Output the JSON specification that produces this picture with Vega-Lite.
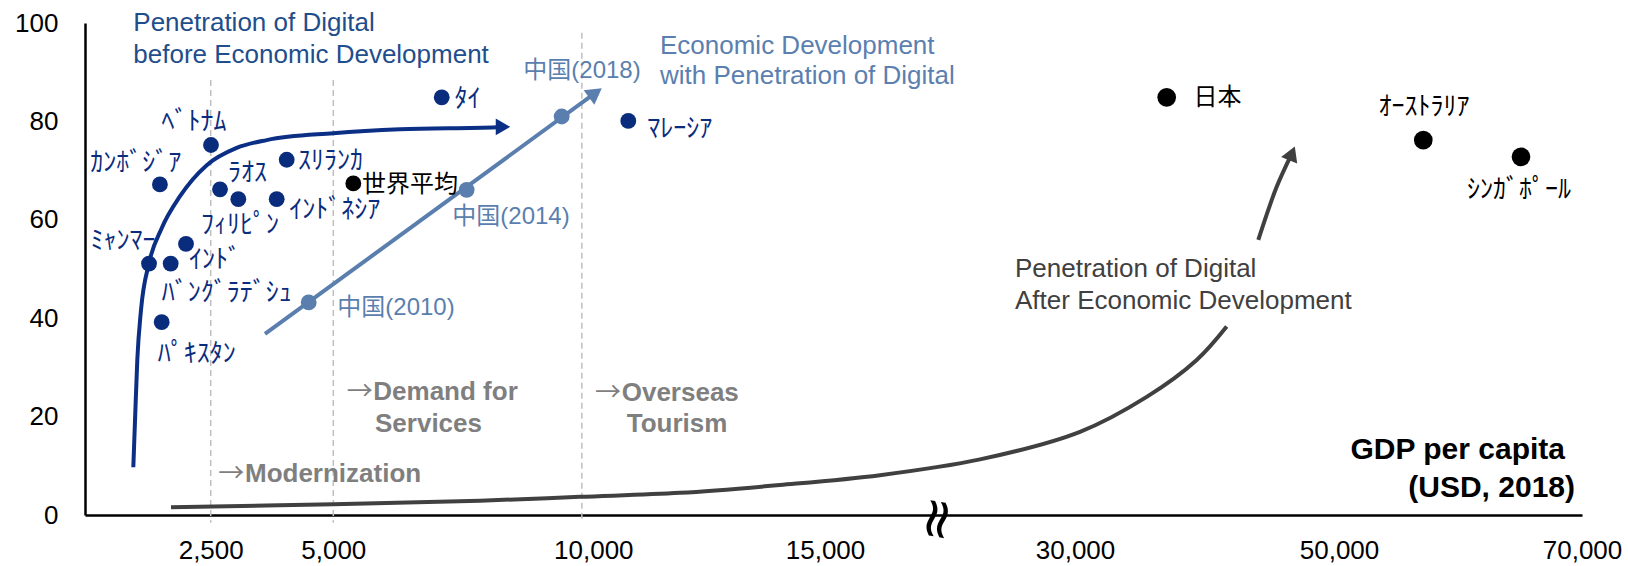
{
  "$schema": "https://vega.github.io/schema/vega-lite/v6.json",
  "width": 1497,
  "height": 492,
  "autosize": {"type": "none"},
  "padding": {"left": 85, "top": 23, "right": 46, "bottom": 51},
  "background": "white",
  "config": {"view": {"stroke": null}, "font": "Liberation Sans"},
  "datasets": {
    "points": [
      {"name": "ｶﾝﾎﾞｼﾞｱ", "gdp": 1490, "pct": 67.2, "group": "asia"},
      {"name": "ﾍﾞﾄﾅﾑ", "gdp": 2506, "pct": 75.2, "group": "asia"},
      {"name": "ﾗｵｽ", "gdp": 2690, "pct": 66.2, "group": "asia"},
      {"name": "ﾌｨﾘﾋﾟﾝ", "gdp": 3063, "pct": 64.2, "group": "asia"},
      {"name": "ｲﾝﾄﾞﾈｼｱ", "gdp": 3846, "pct": 64.2, "group": "asia"},
      {"name": "ｽﾘﾗﾝｶ", "gdp": 4050, "pct": 72.2, "group": "asia"},
      {"name": "ｲﾝﾄﾞ", "gdp": 2009, "pct": 55.1, "group": "asia"},
      {"name": "ﾊﾞﾝｸﾞﾗﾃﾞｼｭ", "gdp": 1704, "pct": 51.1, "group": "asia"},
      {"name": "ﾐｬﾝﾏｰ", "gdp": 1273, "pct": 51.1, "group": "asia"},
      {"name": "ﾊﾟｷｽﾀﾝ", "gdp": 1525, "pct": 39.2, "group": "asia"},
      {"name": "ﾀｲ", "gdp": 7085, "pct": 84.9, "group": "asia"},
      {"name": "ﾏﾚｰｼｱ", "gdp": 10755, "pct": 80.1, "group": "asia"},
      {"name": "世界平均", "gdp": 5385, "pct": 67.4, "group": "world"},
      {"name": "中国(2010)", "gdp": 4498, "pct": 43.2, "group": "china"},
      {"name": "中国(2014)", "gdp": 7565, "pct": 66.1, "group": "china"},
      {"name": "中国(2018)", "gdp": 9392, "pct": 81.0, "group": "china"},
      {"name": "日本", "gdp": 36947, "pct": 84.9, "group": "developed"},
      {"name": "ｵｰｽﾄﾗﾘｱ", "gdp": 56938, "pct": 76.2, "group": "developed"},
      {"name": "ｼﾝｶﾞﾎﾟｰﾙ", "gdp": 64979, "pct": 72.8, "group": "developed"}
    ],
    "labels": [
      {"text": "ｶﾝﾎﾞｼﾞｱ", "gdp": 1010, "pct": 71.6, "group": "asia"},
      {"text": "ﾍﾞﾄﾅﾑ", "gdp": 2168, "pct": 79.9, "group": "asia"},
      {"text": "ﾗｵｽ", "gdp": 3250, "pct": 69.6, "group": "asia"},
      {"text": "ｽﾘﾗﾝｶ", "gdp": 4943, "pct": 72.0, "group": "asia"},
      {"text": "ｲﾝﾄﾞﾈｼｱ", "gdp": 5027, "pct": 62.0, "group": "asia"},
      {"text": "ﾌｨﾘﾋﾟﾝ", "gdp": 3097, "pct": 58.9, "group": "asia"},
      {"text": "ｲﾝﾄﾞ", "gdp": 2588, "pct": 51.9, "group": "asia"},
      {"text": "ﾐｬﾝﾏｰ", "gdp": 756, "pct": 55.7, "group": "asia"},
      {"text": "ﾊﾞﾝｸﾞﾗﾃﾞｼｭ", "gdp": 2826, "pct": 45.2, "group": "asia"},
      {"text": "ﾊﾟｷｽﾀﾝ", "gdp": 2222, "pct": 32.7, "group": "asia"},
      {"text": "ﾀｲ", "gdp": 7581, "pct": 84.6, "group": "asia"},
      {"text": "ﾏﾚｰｼｱ", "gdp": 11864, "pct": 78.4, "group": "asia"},
      {"text": "世界平均", "gdp": 6475, "pct": 67.1, "group": "world"},
      {"text": "中国(2018)", "gdp": 9783, "pct": 90.2, "group": "china"},
      {"text": "中国(2014)", "gdp": 8417, "pct": 60.6, "group": "china"},
      {"text": "中国(2010)", "gdp": 6206, "pct": 42.1, "group": "china"},
      {"text": "日本", "gdp": 40795, "pct": 84.7, "group": "developed"},
      {"text": "ｵｰｽﾄﾗﾘｱ", "gdp": 56996, "pct": 83.0, "group": "developed"},
      {"text": "ｼﾝｶﾞﾎﾟｰﾙ", "gdp": 64815, "pct": 66.1, "group": "developed"}
    ],
    "curves": [
      {"series": "before", "gdp": 961, "pct": 9.7},
      {"series": "before", "gdp": 995, "pct": 19.3},
      {"series": "before", "gdp": 1040, "pct": 31.5},
      {"series": "before", "gdp": 1114, "pct": 41.7},
      {"series": "before", "gdp": 1273, "pct": 51.2},
      {"series": "before", "gdp": 1525, "pct": 58.3},
      {"series": "before", "gdp": 1890, "pct": 64.8},
      {"series": "before", "gdp": 2421, "pct": 71.1},
      {"series": "before", "gdp": 3030, "pct": 74.6},
      {"series": "before", "gdp": 3642, "pct": 76.2},
      {"series": "before", "gdp": 5000, "pct": 77.6},
      {"series": "before", "gdp": 6283, "pct": 78.4},
      {"series": "before", "gdp": 8148, "pct": 78.8},
      {"series": "before", "gdp": 8263, "pct": 78.9},
      {"series": "with", "gdp": 3607, "pct": 36.8},
      {"series": "with", "gdp": 10045, "pct": 85.8},
      {"series": "after1", "gdp": 1711, "pct": 1.6},
      {"series": "after1", "gdp": 5000, "pct": 2.2},
      {"series": "after1", "gdp": 7821, "pct": 2.9},
      {"series": "after1", "gdp": 9744, "pct": 3.7},
      {"series": "after1", "gdp": 11871, "pct": 4.5},
      {"series": "after1", "gdp": 14029, "pct": 6.1},
      {"series": "after1", "gdp": 18300, "pct": 8.1},
      {"series": "after1", "gdp": 24300, "pct": 11.3},
      {"series": "after1", "gdp": 30379, "pct": 16.9},
      {"series": "after1", "gdp": 35432, "pct": 24.0},
      {"series": "after1", "gdp": 39220, "pct": 31.5},
      {"series": "after1", "gdp": 41492, "pct": 38.3},
      {"series": "after2", "gdp": 43886, "pct": 55.9},
      {"series": "after2", "gdp": 45280, "pct": 66.7},
      {"series": "after2", "gdp": 46439, "pct": 73.5}
    ]
  },
  "encoding": {
    "x": {
      "field": "gdp",
      "type": "quantitative",
      "scale": {
        "type": "linear",
        "domain": [0, 2500, 5000, 10000, 15000, 30000, 50000, 70000],
        "range": [0, 125.7, 248.3, 508.3, 740, 990, 1254, 1497],
        "nice": false,
        "zero": false
      },
      "axis": {
        "values": [2500, 5000, 10000, 15000, 30000, 50000, 70000],
        "labelExpr": "format(datum.value, ',d')",
        "title": null,
        "grid": false,
        "ticks": false,
        "labelPadding": 22,
        "labelFontSize": 26,
        "labelFont": "Liberation Sans",
        "labelColor": "#000000",
        "labelFlush": false,
        "labelOverlap": false,
        "labelBound": false,
        "domainColor": "#000000",
        "domainWidth": 2.5
      }
    },
    "y": {
      "field": "pct",
      "type": "quantitative",
      "scale": {"domain": [0, 100], "nice": false, "zero": false},
      "axis": {
        "values": [0, 20, 40, 60, 80, 100],
        "title": null,
        "grid": false,
        "ticks": false,
        "labelPadding": 27,
        "labelFontSize": 26,
        "labelFont": "Liberation Sans",
        "labelColor": "#000000",
        "labelFlush": false,
        "labelOverlap": false,
        "labelBound": false,
        "domainColor": "#000000",
        "domainWidth": 2.5
      }
    }
  },
  "layer": [
    {
      "data": {"values": [
        {"gdp": 2500, "pct": 88.4, "pct2": -1.6},
        {"gdp": 5000, "pct": 88.4, "pct2": -1.6},
        {"gdp": 9780, "pct": 98.0, "pct2": -1.4}
      ]},
      "mark": {"type": "rule", "color": "#bfbfbf", "strokeWidth": 1.5, "strokeDash": [6, 4]},
      "encoding": {"y2": {"field": "pct2"}}
    },
    {
      "data": {"name": "curves"},
      "transform": [{"filter": "datum.series === 'before'"}],
      "mark": {"type": "line", "interpolate": "monotone", "color": "#0c2f86", "strokeWidth": 4, "strokeCap": "butt"},
      "encoding": {}
    },
    {
      "data": {"name": "curves"},
      "transform": [{"filter": "datum.series === 'with'"}],
      "mark": {"type": "line", "color": "#5a7fae", "strokeWidth": 4, "strokeCap": "butt"},
      "encoding": {}
    },
    {
      "data": {"name": "curves"},
      "transform": [{"filter": "datum.series === 'after1' || datum.series === 'after2'"}],
      "mark": {"type": "line", "interpolate": "catmull-rom", "color": "#404040", "strokeWidth": 4, "strokeCap": "butt"},
      "encoding": {"detail": {"field": "series"}}
    },
    {
      "data": {"values": [{"gdp": 8263, "pct": 78.9}]},
      "mark": {"type": "point", "shape": "triangle-up", "filled": true, "opacity": 1, "size": 280, "angle": 90, "color": "#0c2f86"}
    },
    {
      "data": {"values": [{"gdp": 10045, "pct": 85.8}]},
      "mark": {"type": "point", "shape": "triangle-up", "filled": true, "opacity": 1, "size": 330, "angle": 54, "color": "#5a7fae"}
    },
    {
      "data": {"values": [{"gdp": 46439, "pct": 73.5}]},
      "mark": {"type": "point", "shape": "triangle-up", "filled": true, "opacity": 1, "size": 300, "angle": 22, "color": "#404040"}
    },
    {
      "data": {"name": "points"},
      "transform": [{"filter": "datum.group !== 'developed'"}],
      "mark": {"type": "circle", "size": 250, "opacity": 1},
      "encoding": {
        "color": {"field": "group", "type": "nominal", "legend": null,
          "scale": {"domain": ["asia", "china", "world", "developed"], "range": ["#0a2c7d", "#5a7fae", "#000000", "#000000"]}}
      }
    },
    {
      "data": {"name": "points"},
      "transform": [{"filter": "datum.group === 'developed'"}],
      "mark": {"type": "circle", "size": 350, "opacity": 1, "color": "#000000"}
    },
    {
      "data": {"name": "labels"},
      "transform": [{"filter": "test(/[\\u4e00-\\u9fff]/, datum.text)"}],
      "mark": {"type": "text", "align": "center", "baseline": "middle", "fontSize": 24, "font": "Liberation Sans, Noto Sans CJK JP"},
      "encoding": {
        "text": {"field": "text"},
        "color": {"field": "group", "type": "nominal", "legend": null,
          "scale": {"domain": ["asia", "china", "world", "developed"], "range": ["#0a2c7d", "#5a7fae", "#000000", "#000000"]}}
      }
    },
    {
      "data": {"name": "labels"},
      "transform": [{"filter": "!test(/[\\u4e00-\\u9fff]/, datum.text)"}],
      "mark": {"type": "text", "align": "center", "baseline": "middle", "fontSize": 26, "font": "Noto Sans CJK JP"},
      "encoding": {
        "text": {"field": "text"},
        "color": {"field": "group", "type": "nominal", "legend": null,
          "scale": {"domain": ["asia", "china", "world", "developed"], "range": ["#0a2c7d", "#5a7fae", "#000000", "#000000"]}}
      }
    },
    {
      "data": {"values": [
        {"gdp": 961, "pct": 98.4, "text": "Penetration of Digital"},
        {"gdp": 961, "pct": 91.9, "text": "before Economic Development"}
      ]},
      "mark": {"type": "text", "align": "left", "baseline": "alphabetic", "fontSize": 26, "color": "#1f4e8c"},
      "encoding": {"text": {"field": "text"}}
    },
    {
      "data": {"values": [
        {"gdp": 11439, "pct": 93.8, "text": "Economic Development"},
        {"gdp": 11439, "pct": 87.7, "text": "with Penetration of Digital"}
      ]},
      "mark": {"type": "text", "align": "left", "baseline": "alphabetic", "fontSize": 26, "color": "#5b80b0"},
      "encoding": {"text": {"field": "text"}}
    },
    {
      "data": {"values": [
        {"gdp": 26400, "pct": 48.4, "text": "Penetration of Digital"},
        {"gdp": 26400, "pct": 41.8, "text": "After Economic Development"}
      ]},
      "mark": {"type": "text", "align": "left", "baseline": "alphabetic", "fontSize": 26, "color": "#404040"},
      "encoding": {"text": {"field": "text"}}
    },
    {
      "data": {"values": [
        {"gdp": 3199, "pct": 6.8, "text": "Modernization"},
        {"gdp": 5769, "pct": 23.4, "text": "Demand for"},
        {"gdp": 5802, "pct": 16.9, "text": "Services"},
        {"gdp": 10613, "pct": 23.2, "text": "Overseas"},
        {"gdp": 10721, "pct": 16.9, "text": "Tourism"}
      ]},
      "mark": {"type": "text", "align": "left", "baseline": "alphabetic", "fontSize": 26, "fontWeight": "bold", "color": "#7f7f7f"},
      "encoding": {"text": {"field": "text"}}
    },
    {
      "data": {"values": [
        {"gdp": 2655, "pct": 6.8, "text": "→"},
        {"gdp": 5258, "pct": 23.4, "text": "→"},
        {"gdp": 10037, "pct": 23.2, "text": "→"}
      ]},
      "mark": {"type": "text", "align": "left", "baseline": "alphabetic", "fontSize": 26, "color": "#7f7f7f", "font": "Noto Sans CJK JP"},
      "encoding": {"text": {"field": "text"}}
    },
    {
      "data": {"values": [
        {"gdp": 68601, "pct": 11.3, "text": "GDP per capita"},
        {"gdp": 69424, "pct": 3.7, "text": "(USD, 2018)"}
      ]},
      "mark": {"type": "text", "align": "right", "baseline": "alphabetic", "fontSize": 30, "fontWeight": "bold", "color": "#000000"},
      "encoding": {"text": {"field": "text"}}
    },
    {
      "data": {"values": [{"gdp": 21700, "pct": -0.8, "text": "≈"}]},
      "mark": {"type": "text", "align": "center", "baseline": "middle", "fontSize": 56, "angle": 100, "color": "#000000", "font": "DejaVu Sans"},
      "encoding": {"text": {"field": "text"}}
    }
  ]
}
